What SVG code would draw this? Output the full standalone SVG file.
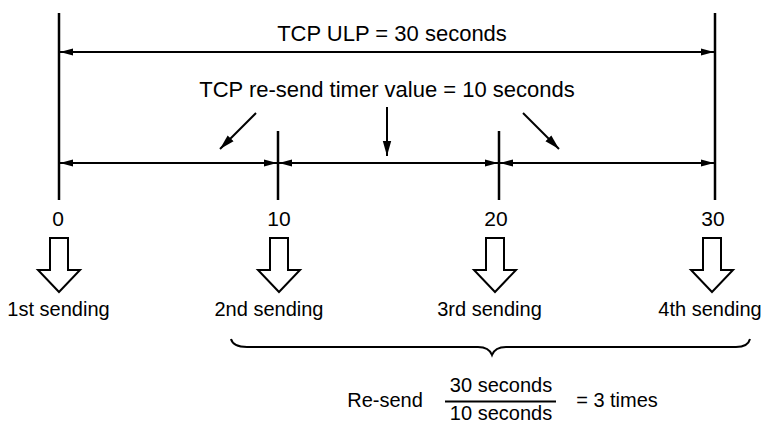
<svg xmlns="http://www.w3.org/2000/svg" width="763" height="425" viewBox="0 0 763 425">
<style>
text{font-family:"Liberation Sans",Arial,sans-serif;fill:#000}
.big{font-size:22px}
.num{font-size:21px;text-anchor:middle}
.lbl{font-size:20px;text-anchor:middle}
.ln{stroke:#000;stroke-width:2;fill:none}
.vl{stroke:#000;stroke-width:2.5;fill:none}
.dim{stroke:#000;stroke-width:2;fill:none;marker-start:url(#ah);marker-end:url(#ah)}
.ptr{stroke:#000;stroke-width:2;fill:none;marker-end:url(#ah2)}
.hollow{stroke:#000;stroke-width:2;fill:#fff;stroke-linejoin:miter}
</style>
<defs>
<marker id="ah" markerUnits="userSpaceOnUse" markerWidth="14" markerHeight="10" refX="13" refY="5" orient="auto-start-reverse">
<path d="M0,1.5 L13,5 L0,8.5 Z" fill="#000"/>
</marker>
<marker id="ah2" markerUnits="userSpaceOnUse" markerWidth="16" markerHeight="10" refX="15" refY="5" orient="auto">
<path d="M0,0.8 L15,5 L0,9.2 Z" fill="#000"/>
</marker>
</defs>
<rect width="763" height="425" fill="#fff"/>
<g id="axis">
<line class="vl" x1="59" y1="13" x2="59" y2="200"/>
<line class="vl" x1="715" y1="13" x2="715" y2="200"/>
<line class="vl" x1="278" y1="131" x2="278" y2="200"/>
<line class="vl" x1="499" y1="131" x2="499" y2="200"/>
</g>
<g id="connectors">
<line class="dim" x1="60" y1="52" x2="714" y2="52"/>
<line class="dim" x1="60" y1="163" x2="277" y2="163"/>
<line class="dim" x1="279" y1="163" x2="498" y2="163"/>
<line class="dim" x1="500" y1="163" x2="714" y2="163"/>
<line class="ptr" x1="256" y1="113" x2="220" y2="149"/>
<line class="ptr" x1="387" y1="107" x2="387" y2="156"/>
<line class="ptr" x1="523" y1="113" x2="559" y2="149"/>
</g>
<g id="ulp-label"><text class="big" x="392" y="41" text-anchor="middle">TCP ULP = 30 seconds</text></g>
<g id="timer-label"><text class="big" x="387" y="97" text-anchor="middle">TCP re-send timer value = 10 seconds</text></g>
<g id="t0">
<text class="num" x="58" y="226">0</text>
<path class="hollow" d="M50,238 H68 V270 H80 L59,292 L38,270 H50 Z"/>
<text class="lbl" x="58.5" y="316">1st sending</text>
</g>
<g id="t10">
<text class="num" x="279" y="226">10</text>
<path class="hollow" d="M270,238 H288 V270 H300 L279,292 L258,270 H270 Z"/>
<text class="lbl" x="269" y="316">2nd sending</text>
</g>
<g id="t20">
<text class="num" x="496" y="226">20</text>
<path class="hollow" d="M486,238 H504 V270 H516 L495,292 L474,270 H486 Z"/>
<text class="lbl" x="489.5" y="316">3rd sending</text>
</g>
<g id="t30">
<text class="num" x="713" y="226">30</text>
<path class="hollow" d="M703,238 H721 V270 H733 L712,292 L691,270 H703 Z"/>
<text class="lbl" x="710" y="316">4th sending</text>
</g>
<g id="brace">
<path class="ln" d="M231,339 Q233,347 247,347 L478,347 Q489,347 492,355 Q495,347 506,347 L736,347 Q748,347 750,339"/>
</g>
<g id="formula">
<text class="lbl" x="385" y="407">Re-send</text>
<text class="lbl" x="501" y="392">30 seconds</text>
<line class="ln" x1="445" y1="401.5" x2="556" y2="401.5"/>
<text class="lbl" x="501" y="420">10 seconds</text>
<text class="lbl" x="617" y="407">= 3 times</text>
</g>
</svg>
